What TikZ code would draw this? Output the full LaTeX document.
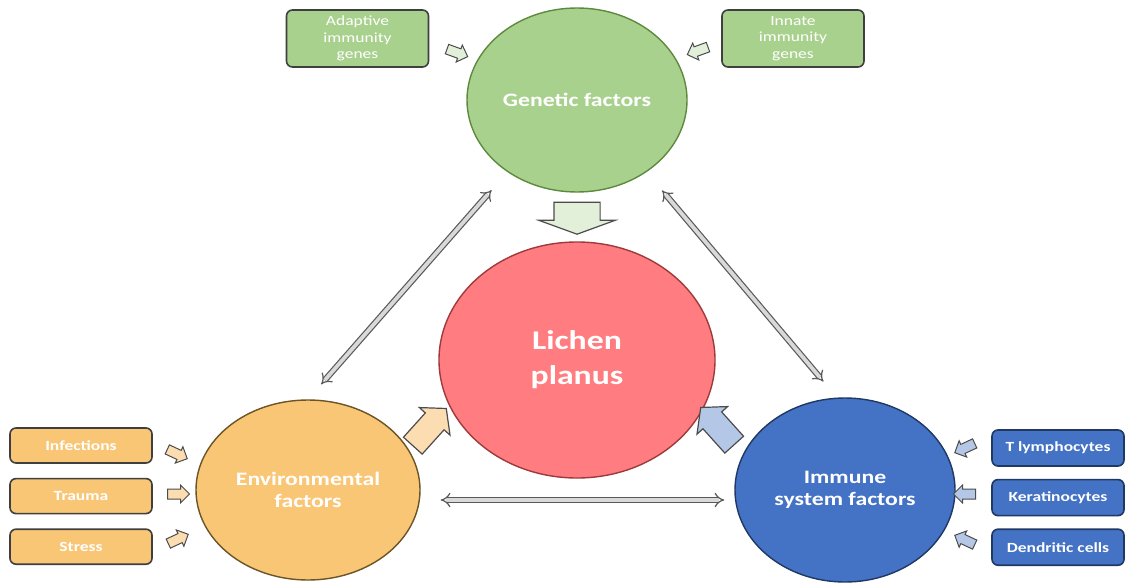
\documentclass[tikz,border=0pt]{standalone}
\usepackage{fontspec}
\setmainfont{Carlito}[FakeStretch=1.25]
\usetikzlibrary{arrows.meta,positioning,shapes.geometric,shapes.arrows}

\definecolor{genfill}{HTML}{A9D18E}
\definecolor{genline}{HTML}{5E8A3E}
\definecolor{genlight}{HTML}{E2F0D9}
\definecolor{lpfill}{HTML}{FF7C80}
\definecolor{lpline}{HTML}{9E3A3C}
\definecolor{envfill}{HTML}{F9C675}
\definecolor{envline}{HTML}{6B5425}
\definecolor{envlight}{HTML}{FBDDB1}
\definecolor{immfill}{HTML}{4472C4}
\definecolor{immline}{HTML}{1F3864}
\definecolor{immlight}{HTML}{B4C7E7}
\definecolor{boxline}{HTML}{3F3F3F}
\definecolor{linkfill}{HTML}{D9D9D9}
\definecolor{linkline}{HTML}{595959}

\begin{document}
\begin{tikzpicture}[x=1pt, y=-1pt,
    every node/.style={align=center, text=white},
    factor/.style={draw, ellipse, line width=1.4pt, inner sep=0pt,
                   font=\fontsize{19}{22}\selectfont\bfseries},
    itembox/.style={draw=boxline, rectangle, rounded corners=6pt, line width=1.6pt,
                    minimum width=142pt, minimum height=35pt, inner sep=1pt,
                    font=\fontsize{14}{16.5}\selectfont\bfseries},
    genebox/.style={itembox, fill=genfill, minimum height=57pt,
                    font=\fontsize{14}{16.5}\selectfont},
    inarrow/.style={draw=gray!60!black, single arrow, single arrow head extend=4pt,
                    minimum width=18pt, minimum height=22pt, inner xsep=0pt, inner ysep=4.5pt,
                    line width=1pt},
    bigarrow/.style={draw=gray!60!black, single arrow, single arrow head extend=8pt,
                     single arrow tip angle=100, minimum width=40pt, minimum height=50pt,
                     inner xsep=0pt, inner ysep=12pt, line width=1.2pt},
    link/.style={draw=linkline, line width=1.2pt, double=linkfill, double distance=3.8pt,
                 {Implies}-{Implies}}
]
\useasboundingbox[fill=white] (0,0) rectangle (1126,583);

% factor circles
\node[factor, fill=genfill, draw=genline, minimum width=220pt, minimum height=184pt] (gen) at (577,100) {Genetic factors};
\node[factor, fill=lpfill, draw=lpline, minimum width=276pt, minimum height=236pt,
      font=\fontsize{27}{35}\selectfont\bfseries] (lp) at (577,360) {Lichen\\planus};
\node[factor, fill=envfill, draw=envline, minimum width=224pt, minimum height=180pt] (env) at (308,490) {Environmental\\factors};
\node[factor, fill=immfill, draw=immline, minimum width=220pt, minimum height=184pt] (imm) at (845,490) {Immune\\system factors};

% gene boxes
\node[genebox] (adapt) at (357.5,38.5) {Adaptive\\immunity\\genes};
\node[genebox] (innate) at (793,38.5) {Innate\\immunity\\genes};

% environmental boxes
\node[itembox, fill=envfill] (infect) at (81,445.5) {Infections};
\node[itembox, fill=envfill, below=14pt of infect] (trauma) {Trauma};
\node[itembox, fill=envfill, below=14pt of trauma] (stress) {Stress};

% immune boxes
\node[itembox, fill=immfill, draw=immline, minimum width=132pt, minimum height=36pt] (tlym) at (1058,448) {T lymphocytes};
\node[itembox, fill=immfill, draw=immline, minimum width=132pt, minimum height=36pt, below=12pt of tlym] (kera) {Keratinocytes};
\node[itembox, fill=immfill, draw=immline, minimum width=132pt, minimum height=36pt, below=12pt of kera] (dend) {Dendritic cells};

% small input arrows
\node[inarrow, fill=genlight, rotate=-20] (a1) at (455,52) {};
\node[inarrow, fill=genlight, rotate=200] (a2) at (700,50) {};
\node[inarrow, fill=envlight, rotate=-25] (a3) at (175,453) {};
\node[inarrow, fill=envlight] (a4) at (176,494) {};
\node[inarrow, fill=envlight, rotate=25] (a5) at (176,540) {};
\node[inarrow, fill=immlight, rotate=205] (a6) at (967,447) {};
\node[inarrow, fill=immlight, rotate=180] (a7) at (967,494) {};
\node[inarrow, fill=immlight, rotate=155] (a8) at (967,541) {};

% block arrows towards lichen planus
\node[bigarrow, fill=genlight, rotate=-90, minimum width=75pt, minimum height=32pt,
      inner ysep=22.5pt, single arrow head extend=15pt, single arrow tip angle=140] (g2lp) at (577,214) {};
\node[bigarrow, fill=envlight, rotate=48] (e2lp) at (426,431) {};
\node[bigarrow, fill=immlight, rotate=132] (i2lp) at (721,430) {};

% links between factors
\draw[link, shorten <=24pt, shorten >=20pt] (gen.226) -- (env.90);
\draw[link, shorten <=24pt, shorten >=21pt] (gen.314) -- (imm.95);
\draw[link, shorten <=20pt, shorten >=10pt] ([yshift=-10pt]env.east) -- ([yshift=-10pt]imm.west);
\end{tikzpicture}
\end{document}
